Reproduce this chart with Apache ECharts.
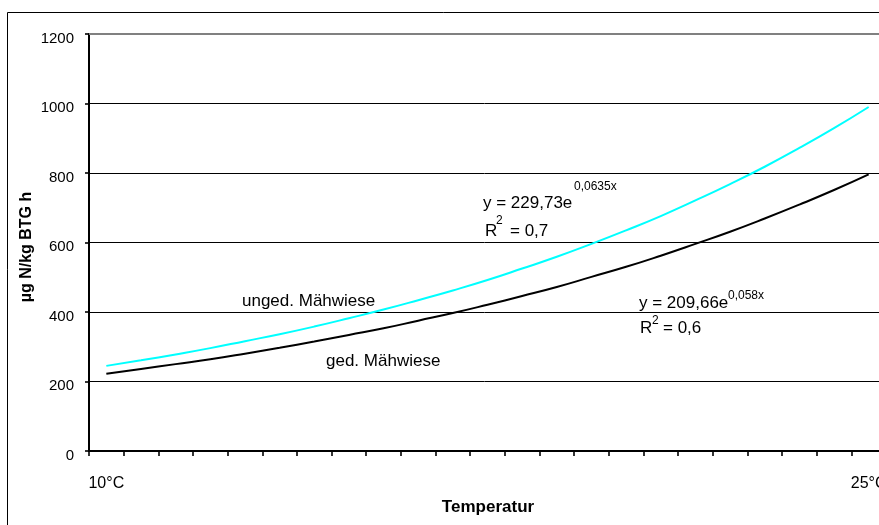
<!DOCTYPE html>
<html>
<head>
<meta charset="utf-8">
<script src="https://cdn.jsdelivr.net/npm/echarts@6/dist/echarts.min.js"></script>
<style>html,body{margin:0;padding:0;background:#fff;}#c{width:879px;height:525px;}</style>
</head>
<body>
<div id="c"></div>
<script>
// Categories (measurement slots); only first and last are labelled
const categories = [1,2,3,4,5,6,7,8,9,10,11,12,13,14,15,16,17,18,19,20,21,22,23];
const tickLabels = {0: '10°C', 22: '25°C'};
// Trend curve values
const ungedMaehwiese = [245, 261, 278, 296, 316, 336, 358, 382, 407, 434, 462, 492, 525, 559, 596, 635, 676, 721, 768, 818, 872, 929, 990];
const gedMaehwiese   = [222, 236, 250, 264, 280, 297, 315, 334, 353, 375, 397, 421, 446, 472, 501, 530, 562, 596, 631, 669, 709, 751, 796];
const yTicks = [0, 200, 400, 600, 800, 1000, 1200];

const FONT = "'Liberation Sans', Arial, sans-serif";
const chart = echarts.init(document.getElementById('c'), null, {renderer: 'canvas'});

function txt(text, x, y, size) {
  return {
    type: 'text', x: x, y: y, z: 100,
    style: {text: text, fill: '#000', font: size + 'px ' + FONT, align: 'left', verticalAlign: 'top'}
  };
}

chart.setOption({
  animation: false,
  backgroundColor: '#fff',
  grid: {left: 89, top: 34, width: 797, height: 417, containLabel: false, outerBoundsMode: 'none'},
  xAxis: {
    type: 'category',
    data: categories,
    boundaryGap: true,
    axisLine: {lineStyle: {color: '#000', width: 2}},
    axisTick: {show: true, interval: 0, length: 5, lineStyle: {color: '#000', width: 1.6}},
    axisLabel: {
      interval: 0, margin: 25, color: '#000', fontSize: 16, fontFamily: FONT,
      formatter: function (v, i) { return tickLabels[i] || ''; }
    },
    splitLine: {show: false}
  },
  yAxis: {
    type: 'value',
    min: yTicks[0], max: yTicks[yTicks.length - 1], interval: 200,
    axisLine: {show: true, lineStyle: {color: '#000', width: 2}},
    axisTick: {show: true, length: 4, lineStyle: {color: '#000', width: 1.6}},
    axisLabel: {
      margin: 15, color: '#000', fontSize: 15, fontFamily: FONT,
      verticalAlign: 'top', lineHeight: 9,
      formatter: function (v) { return String(v); }
    },
    splitLine: {show: true, lineStyle: {color: ['#000', '#000', '#000', '#000', '#000', '#000', '#808080'], width: 1}}
  },
  series: [
    {
      name: 'ged. Mähwiese', type: 'line', data: gedMaehwiese, smooth: true,
      showSymbol: false, lineStyle: {color: '#000', width: 2}, itemStyle: {color: '#000'}
    },
    {
      name: 'unged. Mähwiese', type: 'line', data: ungedMaehwiese, smooth: true,
      showSymbol: false, lineStyle: {color: '#00FFFF', width: 2}, itemStyle: {color: '#00FFFF'},
      markLine: {
        silent: true, symbol: 'none', label: {show: false},
        lineStyle: {color: '#808080', width: 1.8, type: 'solid'},
        data: [{yAxis: 1200}]
      }
    }
  ],
  graphic: [
    {type: 'rect', z: 0, shape: {x: 7.5, y: 12.5, width: 1000, height: 1000}, style: {fill: 'none', stroke: '#000', lineWidth: 1}},
    {type: 'text', x: 27, y: 247, rotation: Math.PI / 2, z: 100,
      style: {text: 'µg N/kg BTG h', fill: '#000', font: 'bold 16px ' + FONT, align: 'center', verticalAlign: 'middle'}},
    {type: 'text', x: 488, y: 507, z: 100,
      style: {text: 'Temperatur', fill: '#000', font: 'bold 17px ' + FONT, align: 'center', verticalAlign: 'middle'}},
    txt('y = 229,73e', 483, 194.5, 17),
    txt('0,0635x', 574, 180.5, 12),
    txt('R', 485, 222.5, 17),
    txt('2', 496, 215, 12),
    txt('= 0,7', 510, 222.5, 17),
    txt('unged. Mähwiese', 242, 292.5, 17),
    txt('ged. Mähwiese', 326, 352.5, 17),
    txt('y = 209,66e', 639, 294.5, 17),
    txt('0,058x', 728, 290, 12),
    txt('R', 640, 319.5, 17),
    txt('2', 652, 315, 12),
    txt('= 0,6', 663, 319.5, 17)
  ]
});
</script>
</body>
</html>
